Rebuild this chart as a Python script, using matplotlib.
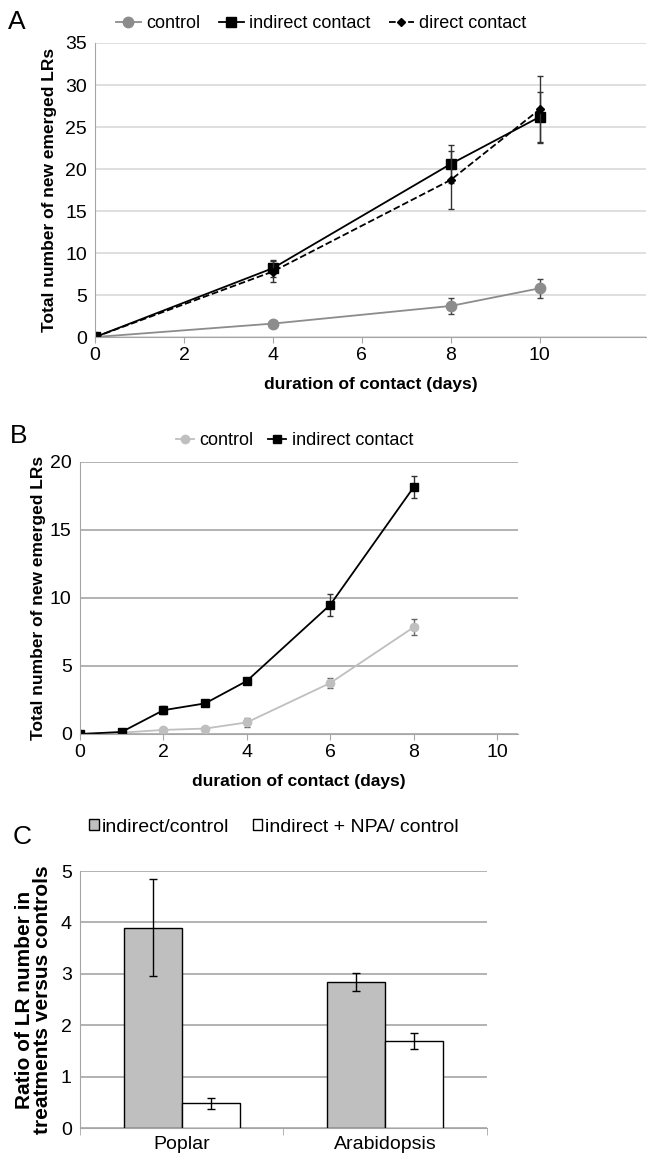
import numpy as np
import matplotlib
matplotlib.use("Agg")
import matplotlib.pyplot as plt

plt.rcParams['font.family'] = ['Liberation Sans', 'DejaVu Sans']

# panel A
days_a = [0, 4, 8, 10]
ctrl_a = [0, 1.6, 3.7, 5.8]
ctrl_a_err = [0, 0.3, 1.0, 1.1]
indirect_a = [0, 8.2, 20.6, 26.2]
indirect_a_err = [0, 1.0, 2.3, 3.0]
direct_a = [0, 7.8, 18.7, 27.1]
direct_a_err = [0, 1.2, 3.5, 4.0]

# panel B
days_b = [0, 1, 2, 3, 4, 6, 8]
ctrl_b = [0, 0.1, 0.3, 0.4, 0.85, 3.75, 7.85]
ctrl_b_err = [0, 0.05, 0.15, 0.1, 0.3, 0.4, 0.6]
indirect_b = [0, 0.15, 1.75, 2.25, 3.9, 9.5, 18.15]
indirect_b_err = [0, 0.1, 0.3, 0.15, 0.2, 0.8, 0.8]

# panel C
species = ["Poplar", "Arabidopsis"]
ratio_ind = [3.9, 2.84]
ratio_ind_err = [0.95, 0.17]
ratio_npa = [0.48, 1.69]
ratio_npa_err = [0.1, 0.15]

fig = plt.figure(figsize=(6.47, 11.59), dpi=100)

tick_fs = 14
lab_fs = 12.5
leg_fs = 13


def style_axes(ax, grid_color):
    ax.yaxis.grid(True, color=grid_color, linewidth=1.2)
    ax.set_axisbelow(True)
    for s in ["top", "right"]:
        ax.spines[s].set_visible(False)
    for s in ["left", "bottom"]:
        ax.spines[s].set_color("#a6a6a6")
    ax.tick_params(axis="y", length=0, labelsize=tick_fs, pad=6)
    ax.tick_params(axis="x", length=4, color="#a6a6a6", labelsize=tick_fs, direction="out")


def series(ax, x, y, err, color, ecolor, label, **kw):
    ax.errorbar(x, y, yerr=err, fmt="none", ecolor=ecolor, elinewidth=1, capsize=2)
    ax.plot(x, y, color=color, lw=1.3, label=label, **kw)


# ---- A ----
ax = fig.add_axes([0.147, 0.7092, 0.852, 0.2537])
style_axes(ax, "#d9d9d9")
series(ax, days_a, ctrl_a, ctrl_a_err, "#8c8c8c", "#444444", "control", marker="o", ms=7.5)
series(ax, days_a, indirect_a, indirect_a_err, "black", "#333333", "indirect contact",
       marker="s", ms=7)
series(ax, days_a, direct_a, direct_a_err, "black", "#333333", "direct contact",
       marker="D", ms=4, ls="--")
ax.set_xlim(0, 12.4)
ax.set_ylim(0, 35)
ax.set_xticks([0, 2, 4, 6, 8, 10])
ax.set_yticks(range(0, 36, 5))
ax.set_ylabel("Total number of new emerged LRs", fontsize=lab_fs, fontweight="bold", labelpad=6)
ax.set_xlabel("duration of contact (days)", fontsize=lab_fs, fontweight="bold", labelpad=9)
ax.legend(loc="lower center", bbox_to_anchor=(0.41, 1.0), ncol=3, frameon=False,
          fontsize=leg_fs, handlelength=1.4, columnspacing=1.0, handletextpad=0.3,
          borderaxespad=0.2)
fig.text(0.012, 0.975, "A", fontsize=19)

# ---- B ----
ax = fig.add_axes([0.1236, 0.3667, 0.677, 0.2347])
style_axes(ax, "#a6a6a6")
series(ax, days_b, ctrl_b, ctrl_b_err, "#bfbfbf", "#666666", "control", marker="o", ms=6)
series(ax, days_b, indirect_b, indirect_b_err, "black", "#333333", "indirect contact",
       marker="s", ms=6)
ax.set_xlim(0, 10.5)
ax.set_ylim(0, 20)
ax.set_xticks([0, 2, 4, 6, 8, 10])
ax.set_yticks(range(0, 21, 5))
ax.set_ylabel("Total number of new emerged LRs", fontsize=lab_fs, fontweight="bold", labelpad=3)
ax.set_xlabel("duration of contact (days)", fontsize=lab_fs, fontweight="bold", labelpad=9)
ax.legend(loc="lower center", bbox_to_anchor=(0.49, 1.0), ncol=2, frameon=False,
          fontsize=leg_fs, handlelength=1.0, columnspacing=0.8, handletextpad=0.3,
          borderaxespad=0.3)
fig.text(0.015, 0.618, "B", fontsize=19)

# ---- C ----
ax = fig.add_axes([0.1236, 0.0267, 0.629, 0.2217])
style_axes(ax, "#a6a6a6")
x = np.arange(len(species))
w = 0.285
ax.bar(x - w / 2, ratio_ind, w, yerr=ratio_ind_err, color="#bfbfbf", edgecolor="black",
       linewidth=1, capsize=3, error_kw=dict(elinewidth=1, capthick=1),
       label="indirect/control")
ax.bar(x + w / 2, ratio_npa, w, yerr=ratio_npa_err, color="white", edgecolor="black",
       linewidth=1, capsize=3, error_kw=dict(elinewidth=1, capthick=1),
       label="indirect + NPA/ control")
ax.set_xlim(-0.5, 1.5)
ax.set_ylim(0, 5)
ax.set_yticks(range(0, 6))
ax.set_xticks(x)
ax.set_xticklabels(species)
ax.set_xticks([-0.5, 0.5, 1.5], minor=True)
ax.tick_params(axis="x", which="major", length=0, pad=6)
ax.tick_params(axis="x", which="minor", length=5, color="#a6a6a6")
ax.set_ylabel("Ratio of LR number in\ntreatments versus controls", fontsize=15,
              fontweight="bold", labelpad=6, linespacing=0.95)
ax.legend(loc="lower left", bbox_to_anchor=(-0.02, 1.07), ncol=2, frameon=False,
          fontsize=14, handlelength=0.5, handleheight=0.5, columnspacing=1.2,
          handletextpad=0.15)
fig.text(0.02, 0.272, "C", fontsize=19)

fig.savefig("out.png", dpi=100)
